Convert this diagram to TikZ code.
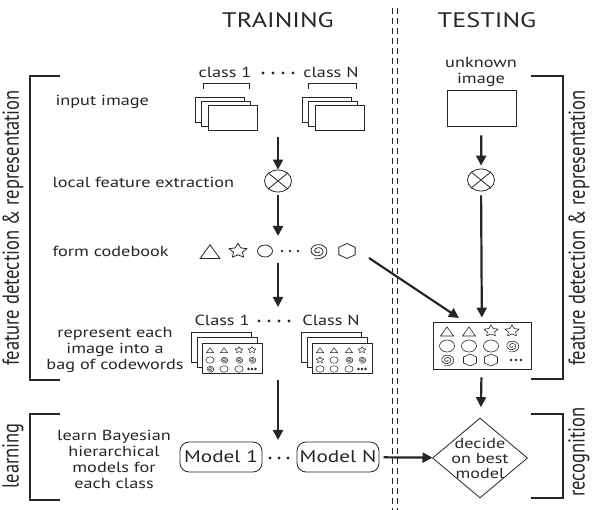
\documentclass[tikz,border=0pt]{standalone}
\usepackage{fontspec}
\setmainfont{PT Sans}
\usetikzlibrary{arrows.meta,shapes.geometric}

\definecolor{ink}{HTML}{262626}

% small codeword symbols: x, y, size (drawn a bit wide, like the rest)
\newcommand{\symtri}[3]{\draw[shift={(#1,#2)},xscale=1.25*#3,yscale=#3] (-90:1) -- (30:1) -- (150:1) -- cycle;}
\newcommand{\symstar}[3]{\draw[shift={(#1,#2)},xscale=1.25*#3,yscale=#3,line join=round] (-90:1) \foreach \a in {0,...,4}{ -- ({-54+72*\a}:0.5) -- ({-18+72*\a}:1)} -- cycle;}
\newcommand{\symcirc}[3]{\draw[shift={(#1,#2)},xscale=1.25*#3,yscale=#3] (0,0) circle (1);}
\newcommand{\symspir}[3]{\draw[shift={(#1,#2)},xscale=1.25*#3,yscale=#3,domain=0:830,samples=70,variable=\t,smooth] plot ({\t}:{0.12+0.88*\t/830});}
\newcommand{\symhex}[3]{\draw[shift={(#1,#2)},xscale=1.25*#3,yscale=#3] (90:1) -- (150:1) -- (210:1) -- (270:1) -- (330:1) -- (30:1) -- cycle;}
\newcommand{\symdots}[3]{\fill[shift={(#1,#2)}] (-#3,0) circle (1.3) (0,0) circle (1.3) (#3,0) circle (1.3);}

\begin{document}
\begin{tikzpicture}
	 [x=1pt,y=-1pt,ink,line width=0.8pt,
	  every node/.style={text=ink,inner sep=0pt},
	  lbl/.style={font=\fontsize{14.6}{16}\selectfont,xscale=1.25},
	  big/.style={font=\fontsize{21}{24}\selectfont,xscale=1.25},
	  side/.style={font=\fontsize{18.5}{22}\selectfont,xscale=1.25,rotate=90},
	  arr/.style={line width=2.2pt,-{Triangle[width=10pt,length=10pt]}},
	  brk/.style={line width=2pt},
	  xcirc/.style={draw,ellipse,minimum width=27pt,minimum height=22pt},
	  pict/.style={draw,fill=white,minimum width=49pt,minimum height=25pt},
	  bagpict/.style={draw,fill=white,minimum width=60pt,minimum height=30pt},
	  model/.style={draw,rounded corners=9pt,minimum width=65.6pt,minimum height=30pt,
	                font=\fontsize{17}{20}\selectfont,xscale=1.25}]
	\useasboundingbox (0,0) rectangle (592,510);

	\node[big] (train) at (278,20) {TRAINING};
	\node[big] (test) at (487,20) {TESTING};

	% the two halves
	\draw[dash pattern=on 6pt off 4pt,line width=1pt] (392,8) -- (392,510) (397,8) -- (397,510);

	% brackets
	\draw[brk] (60,76) -- (30,76) -- (30,380) -- (60,380);
	\draw[brk] (60,414) -- (30,414) -- (30,500) -- (60,500);
	\draw[brk] (531,76) -- (563,76) -- (563,379) -- (531,379);
	\draw[brk] (531,414) -- (563,414) -- (563,498) -- (531,498);
	\node[side] (fdl) at (13,228) {feature detection \& representation};
	\node[side] (lrn) at (13,456) {learning};
	\node[side] (fdr) at (579,228) {feature detection \& representation};
	\node[side] (rec) at (579,452) {recognition};

	% step labels
	\node[lbl,anchor=west] (lin) at (55,102) {input image};
	\node[lbl,anchor=west] (lfe) at (52,182) {local feature extraction};
	\node[lbl,anchor=west] (lcb) at (52,251) {form codebook};
	\node[lbl,align=center] (lrep) at (115,350) {represent each\\image into a\\bag of codewords};
	\node[lbl,align=center] (llrn) at (114,459) {learn Bayesian\\hierarchical\\models for\\each class};

	% training: input images
	\node[lbl] (c1) at (225,72) {class 1};
	\node[lbl] (cN) at (331,72) {class N};
	\foreach \x in {263,273,283,293} \fill (\x,73) circle (1.6);
	\draw (203,89) -- (203,83) -- (249,83) -- (249,89);
	\draw (308,89) -- (308,83) -- (356,83) -- (356,89);
	\node[pict] (a1) at (219.5,109.5) {};
	\node[pict] (b1) at (225.5,113.5) {};
	\node[pict] (i1) at (232.5,117.5) {};
	\node[pict] (aN) at (326.5,109.5) {};
	\node[pict] (bN) at (332.5,113.5) {};
	\node[pict] (iN) at (339.5,117.5) {};

	\coordinate (s1) at (278,137);
	\node[xcirc] (ex1) at (278,181) {};
	\draw (ex1.north west) -- (ex1.south east) (ex1.north east) -- (ex1.south west);
	\coordinate (cbt) at (278,236);
	\coordinate (cbb) at (278,263);
	\draw[arr] (s1) -- (ex1);
	\draw[arr,shorten <=3pt] (ex1) -- (cbt);

	% codebook
	\symtri{210}{254}{9.2}
	\symstar{238}{251}{7.6}
	\symcirc{265}{251}{6}
	\symdots{290}{251}{8}
	\symspir{318}{251}{8}
	\symhex{347}{251}{7.5}

	% bags of codewords
	\node[lbl] (C1) at (222,320) {Class 1};
	\node[lbl] (CN) at (331,320) {Class N};
	\foreach \x in {259,269,279,289} \fill (\x,321) circle (1.6);
	\coordinate (rt) at (278,307);
	\draw[arr] (cbb) -- (rt);

	\node[bagpict] (p1) at (221,347) {};
	\node[bagpict] (q1) at (227,352) {};
	\node[bagpict] (r1) at (232,358) {};
	\node[bagpict] (pN) at (331,347) {};
	\node[bagpict] (qN) at (337,352) {};
	\node[bagpict] (rN) at (342,358) {};
	\begin{scope}[line width=0.5pt]
	\foreach \p/\x/\y in {symtri/210/351,symtri/224/351,symstar/239/350,symstar/252/350,
	                      symcirc/210/360,symspir/224/360,symspir/239/360,symspir/252/360,
	                      symspir/210/369,symcirc/224/369,symcirc/239/369}
	  \csname\p\endcsname{\x}{\y}{3.3};
	\symdots{252}{369}{3.5}
	\foreach \p/\x/\y in {symtri/320/351,symtri/334/351,symtri/349/351,symstar/362/350,
	                      symstar/320/360,symcirc/334/360,symspir/349/360,symspir/362/360,
	                      symcirc/320/369,symcirc/334/369,symcirc/349/369}
	  \csname\p\endcsname{\x}{\y}{3.3};
	\symdots{362}{369}{3.5}
	\end{scope}

	\coordinate (rb) at (278,380);
	\coordinate (mt) at (278,440);
	\draw[arr] (rb) -- (mt);

	% models
	\node[model] (m1) at (221,457) {Model 1};
	\node[model] (mN) at (338,457) {Model N};
	\foreach \x in {270,279,288} \fill (\x,458) circle (1.6);

	% testing
	\node[lbl,align=center] (unk) at (481,72) {unknown\\image};
	\node[draw,minimum width=69pt,minimum height=36pt] (timg) at (481.5,108) {};
	\node[xcirc] (ex2) at (481,180) {};
	\draw (ex2.north west) -- (ex2.south east) (ex2.north east) -- (ex2.south west);
	\draw[arr,shorten <=9pt,shorten >=3pt] (timg) -- (ex2);

	\node[draw,minimum width=98pt,minimum height=47pt] (tbox) at (482,345.5) {};
	\draw[arr,shorten <=4pt,shorten >=4pt] (ex2) -- (tbox);
	\coordinate (cbe) at (369,258);
	\coordinate (tin) at (459,318);
	\draw[arr] (cbe) -- (tin);
	\begin{scope}[line width=0.6pt]
	\foreach \p/\x/\y in {symtri/447/333,symtri/469/333,symstar/491/331,symstar/512/331,
	                      symcirc/447/346,symcirc/469/346,symcirc/491/346,symspir/512/346,
	                      symspir/447/360,symhex/470/360,symhex/491/360}
	  \csname\p\endcsname{\x}{\y}{6};
	\symdots{516}{360}{5}
	\end{scope}

	\node[draw,diamond,minimum width=95pt,minimum height=80pt,inner sep=-10pt] (dec) at (480,458) {};
	\node[lbl,align=center,font=\fontsize{14.5}{15}\selectfont] (dect) at (480,458) {decide\\on best\\model};
	\draw[arr,shorten <=8pt,shorten >=11pt] (tbox) -- (dec);
	\draw[arr,shorten <=4pt] (mN) -- (dec);

\end{tikzpicture}
\end{document}
